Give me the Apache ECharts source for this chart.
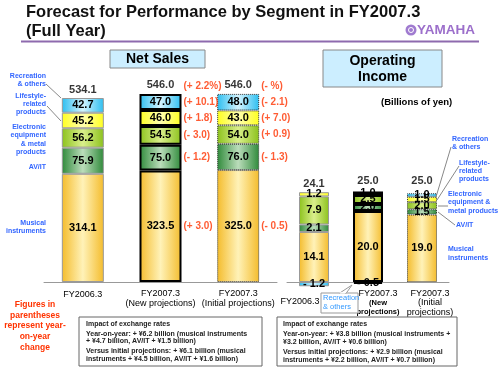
<!DOCTYPE html>
<html>
<head>
<meta charset="utf-8">
<script src="https://cdn.jsdelivr.net/npm/echarts@6/dist/echarts.min.js"></script>
<style>
html, body { margin: 0; padding: 0; background: #fff; }
#main { width: 500px; height: 375px; }
</style>
</head>
<body>
<div id="main"></div>
<script>
var FONT = '"Liberation Sans", Arial, sans-serif'

var salesTickLabels = ['FY2006.3', 'FY2007.3\n(New projections)', 'FY2007.3\n(Initial projections)']
var incomeTickLabels = ['FY2006.3', 'FY2007.3\n(New\nprojections)', 'FY2007.3\n(Initial\nprojections)']
var segmentNames = ['Musical instruments', 'AV/IT', 'Electronic equipment & metal products', 'Lifestyle-related products', 'Recreation & others']

// net sales (billions of yen)
var salesMusical = [314.1, 323.5, 325.0]
var salesAvit = [75.9, 75.0, 76.0]
var salesElectronic = [56.2, 54.5, 54.0]
var salesLifestyle = [45.2, 46.0, 43.0]
var salesRecreation = [42.7, 47.0, 48.0]
var salesTotals = [534.1, 546.0, 546.0]

// operating income (billions of yen)
var incomeMusical = [14.1, 20.0, 19.0]
var incomeAvit = [2.1, 2.0, 1.5]
var incomeElectronic = [7.9, 2.5, 2.0]
var incomeLifestyle = [1.2, 1.0, 1.5]
var incomeRecreation = [-1.2, -0.5, 1.0]
var incomeTotals = [24.1, 25.0, 25.0]

// changes shown in red, segment order as above, last one is the total
var changeNew = ['(+ 3.0)', '(- 1.2)', '(- 3.0)', '(+ 1.8)', '(+ 10.1)', '(+ 2.2%)']
var changeInitial = ['(- 0.5)', '(- 1.3)', '(+ 0.9)', '(+ 7.0)', '(- 2.1)', '(- %)']

function grad(edge, mid) {
    return { type: 'linear', x: 0, y: 0, x2: 1, y2: 0,
        colorStops: [{ offset: 0, color: edge }, { offset: 0.5, color: mid }, { offset: 1, color: edge }] }
}
var segColors = [
    grad('#F4BC2C', '#FFF2B8'),
    grad('#2F8A3A', '#BBDDBB'),
    grad('#8CC21C', '#DAEF8C'),
    grad('#FFFF1E', '#FFFFB0'),
    grad('#2CBEF0', '#D4F4FF')
]
var barBorders = [
    { borderColor: '#999', borderWidth: 1 },
    { borderColor: '#000', borderWidth: 2 },
    { borderColor: '#333', borderWidth: 1, borderType: 'dotted' }
]

function fmt(v) {
    return v < 0 ? '- ' + (-v).toFixed(1) : v.toFixed(1)
}

function segSeries(idx, values, gridIdx, barWidth) {
    return {
        name: segmentNames[idx],
        type: 'bar',
        stack: 'g' + gridIdx,
        xAxisIndex: gridIdx,
        yAxisIndex: gridIdx,
        barWidth: barWidth,
        silent: true,
        data: values.map(function (v, i) {
            var st = Object.assign({ color: segColors[idx] }, barBorders[i])
            return { value: v, itemStyle: st }
        }),
        label: {
            show: true, position: 'inside', color: '#000', fontWeight: 'bold', fontSize: 11,
            fontFamily: FONT, formatter: function (p) { return fmt(p.value) }
        }
    }
}

function changeSeries(segs, totals) {
    var data = []
    ;[[1, changeNew], [2, changeInitial]].forEach(function (pair) {
        var c = pair[0], texts = pair[1], base = 0
        segs.forEach(function (arr, s) {
            data.push({ name: texts[s], value: [c, base + arr[c] / 2] })
            base += arr[c]
        })
        data.push({ name: texts[5], value: [c, totals[c]], label: { offset: [0, -8] } })
    })
    return {
        type: 'scatter', xAxisIndex: 0, yAxisIndex: 0, symbolSize: 0, silent: true, data: data,
        label: { show: true, position: 'right', distance: 23, formatter: '{b}', color: '#FF3300',
            fontWeight: 'bold', fontSize: 10, fontFamily: FONT }
    }
}

function totalSeries(totals, gridIdx, dist) {
    return {
        type: 'scatter', xAxisIndex: gridIdx, yAxisIndex: gridIdx, symbolSize: 0, silent: true,
        data: totals.map(function (v, i) { return [i, v] }),
        label: { show: true, position: 'top', distance: dist, color: '#000', fontWeight: 'bold',
            fontSize: 11, fontFamily: FONT, formatter: function (p) { return p.value[1].toFixed(1) } }
    }
}

function txt(x, y, text, size, color, align, weight, lh) {
    return { type: 'text', x: x, y: y, z: 10, style: {
        text: text, fontSize: size, fontWeight: weight || 'bold', fontFamily: FONT, fill: color,
        align: align || 'left', verticalAlign: 'middle', lineHeight: lh || size + 1 } }
}
function line(x1, y1, x2, y2, color, w) {
    return { type: 'line', z: 9, shape: { x1: x1, y1: y1, x2: x2, y2: y2 },
        style: { stroke: color || '#888', lineWidth: w || 1 } }
}
function box(x, y, w, h, fill, stroke) {
    return { type: 'rect', z: 8, shape: { x: x, y: y, width: w, height: h },
        style: { fill: fill, stroke: stroke, lineWidth: 1 } }
}

var BLUE = '#3366FF'
var graphics = [
    { type: 'text', x: 26, y: 2.5, z: 10, style: { text: 'Forecast for Performance by Segment in FY2007.3\n(Full Year)',
        fontSize: 16.5, fontWeight: 'bold', fontFamily: FONT, fill: '#111', lineHeight: 19, verticalAlign: 'top' } },
    line(21, 41.5, 479, 41.5, '#8E6AAE', 2),
    { type: 'circle', z: 10, shape: { cx: 411, cy: 30, r: 5.5 }, style: { fill: '#A07BD0' } },
    { type: 'circle', z: 11, shape: { cx: 411, cy: 30, r: 2.5 }, style: { fill: 'none', stroke: '#fff', lineWidth: 1 } },
    txt(417, 30.5, 'YAMAHA', 13.5, '#9C6FCB'),

    box(110, 50, 95, 18, '#CCEEFF', '#888'),
    txt(157.5, 59.5, 'Net Sales', 14, '#000', 'center'),
    box(323, 50, 119, 37, '#CCEEFF', '#888'),
    txt(382.5, 69, 'Operating\nIncome', 14, '#000', 'center', 'bold', 16.5),
    txt(381, 102, '(Billions of yen)', 9.5, '#000'),

    txt(46, 80, 'Recreation\n& others', 7, BLUE, 'right', 'bold', 8),
    txt(46, 104, 'Lifestyle-\nrelated\nproducts', 7, BLUE, 'right', 'bold', 8),
    txt(46, 139.5, 'Electronic\nequipment\n& metal\nproducts', 7, BLUE, 'right', 'bold', 8.3),
    txt(46, 167, 'AV/IT', 7, BLUE, 'right'),
    txt(46, 227, 'Musical\ninstruments', 7, BLUE, 'right', 'bold', 8),
    line(46, 84, 61, 98),
    line(47, 106, 61, 121),

    txt(452, 143, 'Recreation\n& others', 7, BLUE, 'left', 'bold', 8),
    txt(459, 171, 'Lifestyle-\nrelated\nproducts', 7, BLUE, 'left', 'bold', 8),
    txt(448, 202.5, 'Electronic\nequipment &\nmetal products', 7, BLUE, 'left', 'bold', 8.5),
    txt(456, 225, 'AV/IT', 7, BLUE),
    txt(448, 253.5, 'Musical\ninstruments', 7, BLUE, 'left', 'bold', 8.5),
    line(451, 147, 436, 197),
    line(459, 166, 437, 200),
    line(438, 206, 448, 206),
    line(438, 212, 455, 225),

    txt(35, 326, 'Figures in\nparentheses\nrepresent year-\non-year\nchange', 8.5, '#FF3300', 'center', 'bold', 10.7),

    box(79, 317, 183, 49, '#fff', '#666'),
    txt(86, 324, 'Impact of exchange rates', 7, '#222'),
    txt(86, 334, 'Year-on-year: + \u00a56.2 billion (musical instruments', 7, '#222'),
    txt(86, 341.5, '+ \u00a54.7 billion, AV/IT + \u00a51.5 billion)', 7, '#222'),
    txt(86, 351, 'Versus initial projections: + \u00a56.1 billion (musical', 7, '#222'),
    txt(86, 359, 'instruments + \u00a54.5 billion, AV/IT + \u00a51.6 billion)', 7, '#222'),

    box(277, 317, 180, 49, '#fff', '#666'),
    txt(283, 324, 'Impact of exchange rates', 7, '#222'),
    txt(283, 334, 'Year-on-year: + \u00a53.8 billion (musical instruments +', 7, '#222'),
    txt(283, 342, '\u00a53.2 billion, AV/IT + \u00a50.6 billion)', 7, '#222'),
    txt(283, 352, 'Versus initial projections: + \u00a52.9 billion (musical', 7, '#222'),
    txt(283, 360, 'instruments + \u00a52.2 billion, AV/IT + \u00a50.7 billion)', 7, '#222'),

    box(321, 293, 37, 20, '#fff', '#999'),
    { type: 'polygon', z: 9, shape: { points: [[339, 293.5], [352, 285], [346, 293.5]] },
        style: { fill: '#fff', stroke: '#999', lineWidth: 1 } },
    line(339.5, 293, 345.5, 293, '#fff', 1.5),
    txt(323, 302.5, 'Recreation\n& others', 7.5, '#3399FF', 'left', 'normal', 9)
]

var salesSegs = [salesMusical, salesAvit, salesElectronic, salesLifestyle, salesRecreation]
var incomeSegs = [incomeMusical, incomeAvit, incomeElectronic, incomeLifestyle, incomeRecreation]

var series = []
salesSegs.forEach(function (arr, i) { series.push(segSeries(i, arr, 0, 42)) })
incomeSegs.forEach(function (arr, i) { series.push(segSeries(i, arr, 1, 30)) })
series.push(changeSeries(salesSegs, salesTotals))
series.push(totalSeries(salesTotals, 0, 3))
series.push(totalSeries(incomeTotals, 1, 7))

var axisLineStyle = { lineStyle: { color: '#999' } }
var option = {
    animation: false,
    textStyle: { fontFamily: FONT },
    grid: [
        { left: 44, width: 233, top: 75.3, bottom: 93 },
        { left: 287, width: 162, top: 104.5, bottom: 75.25 }
    ],
    xAxis: [{
        gridIndex: 0, type: 'category', data: salesTickLabels,
        axisLine: axisLineStyle, axisTick: { length: 4, lineStyle: { color: '#999' } },
        axisLabel: { interval: 0, margin: 6, color: '#000', fontSize: 9, lineHeight: 10.5,
            formatter: function (v, i) {
                return v.split('\n').map(function (s) { return (i === 0 ? '{a|' : '{b|') + s + '}' }).join('\n')
            },
            rich: { a: { fontSize: 9, padding: [3, 0, 0, 0] }, b: { fontSize: 9, lineHeight: 10.5 } } }
    }, {
        gridIndex: 1, type: 'category', data: incomeTickLabels,
        axisLine: axisLineStyle, axisTick: { length: 4, lineStyle: { color: '#999' } },
        // labels sit at the grid bottom, not at the zero line, so pull them up
        axisLabel: { interval: 0, margin: -11, color: '#000', fontSize: 9,
            formatter: function (v, i) {
                return v.split('\n').map(function (s, k) {
                    var key = i === 0 ? 'p0' : i === 2 ? 'p2' : (k === 0 ? 'p1' : 'q1')
                    return '{' + key + '|' + s + '}'
                }).join('\n')
            },
            rich: {
                p0: { fontSize: 9, padding: [8, 28, 0, 0] },
                p1: { fontSize: 9, lineHeight: 10, padding: [0, 0, 0, 20] },
                q1: { fontSize: 7.5, fontWeight: 'bold', lineHeight: 8.5, padding: [0, 0, 0, 20] },
                p2: { fontSize: 9, lineHeight: 9.5, padding: [0, 0, 0, 16] }
            } }
    }],
    yAxis: [
        { gridIndex: 0, type: 'value', min: 0, max: 600, show: false },
        { gridIndex: 1, type: 'value', min: -5, max: 50, show: false }
    ],
    graphic: graphics,
    series: series
}

var myChart = echarts.init(document.getElementById('main'))
myChart.setOption(option)
</script>
</body>
</html>
